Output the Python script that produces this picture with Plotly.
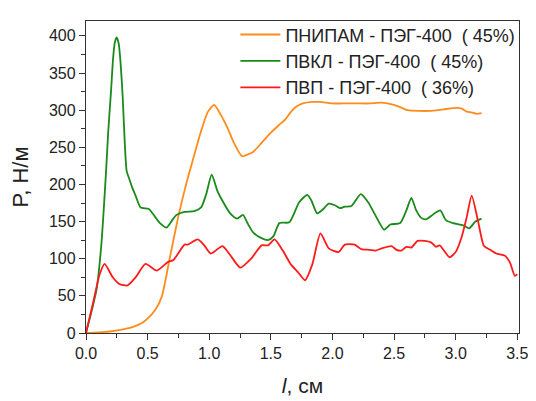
import plotly.graph_objects as go

# ПНИПАМ - ПЭГ-400 (45%)
pnipam_x = [0, 0.1, 0.19, 0.3, 0.377, 0.45, 0.51, 0.565, 0.615, 0.68, 0.748, 0.80, 0.854, 0.934,
            0.99, 1.04, 1.093, 1.146, 1.20, 1.266, 1.31, 1.358, 1.42, 1.49, 1.56, 1.62, 1.66, 1.70,
            1.76, 1.836, 1.90, 1.995, 2.08, 2.155, 2.21, 2.30, 2.40, 2.50, 2.55, 2.61, 2.70,
            2.79, 2.90, 3.01, 3.05, 3.09, 3.13, 3.17, 3.21]
pnipam_y = [0, 0.8, 2, 5, 8, 13, 21, 32, 49, 101, 156, 192, 225, 272,
            298, 307, 294, 277, 256, 238, 240, 244, 255, 268, 279, 288, 297, 304,
            309, 311, 311, 309, 309, 309, 309, 309, 310, 307, 304, 300, 299,
            299, 301, 303, 302, 298, 297, 295, 296]

# ПВКЛ - ПЭГ-400 (45%)
pvkl_x = [0, 0.085, 0.124, 0.164, 0.18, 0.204, 0.22, 0.235, 0.249, 0.265, 0.28, 0.297, 0.315,
          0.33, 0.35, 0.377, 0.40, 0.443, 0.51,
          0.562, 0.60, 0.655, 0.70, 0.735, 0.80, 0.88, 0.934, 0.974, 1.02, 1.067, 1.107, 1.17,
          1.226, 1.274, 1.31, 1.358, 1.42, 1.478, 1.52, 1.57, 1.65, 1.73, 1.796, 1.83, 1.876,
          1.92, 1.97, 2.02, 2.06, 2.10, 2.155, 2.23, 2.29, 2.35, 2.42, 2.47, 2.55, 2.60, 2.64,
          2.68, 2.72, 2.76, 2.82, 2.875, 2.92, 2.98, 3.06, 3.11, 3.16, 3.21]
pvkl_y = [0, 58, 118, 221, 270, 328, 370, 392, 398, 390, 365, 320, 255,
          218, 208, 195, 186, 169, 167,
          156, 148, 142, 152, 159, 163, 164, 169, 186, 213, 191, 178, 161,
          154, 159, 148, 135, 128, 125, 130, 148, 149, 176, 186, 178, 161,
          166, 174, 172, 168, 170, 171, 187, 176, 158, 139, 146, 148, 165, 182,
          165, 155, 153, 160, 165, 152, 148, 145, 141, 150, 154]

# ПВП - ПЭГ-400 (36%)
pvp_x = [0, 0.058, 0.111, 0.151, 0.217, 0.27, 0.337, 0.403, 0.483, 0.575, 0.668, 0.708, 0.80,
         0.827, 0.907, 0.96, 1.013, 1.107, 1.17, 1.252, 1.34, 1.425, 1.478, 1.53, 1.597, 1.664,
         1.72, 1.778, 1.836, 1.903, 1.97, 2.05, 2.10, 2.18, 2.234, 2.30, 2.35, 2.40, 2.48, 2.52,
         2.56, 2.60, 2.64, 2.69, 2.75, 2.80, 2.84, 2.87, 2.95, 3.00, 3.05, 3.09, 3.13, 3.18,
         3.23, 3.28, 3.33, 3.40, 3.44, 3.48, 3.50]
pvp_y = [0, 41, 79, 93, 75, 66, 64, 75, 93, 84, 96, 98, 119,
         119, 126, 118, 107, 117, 105, 88, 100, 118, 118, 126, 111, 92,
         82, 71, 92, 134, 114, 109, 119, 119, 113, 112, 111, 114, 117, 112,
         111, 116, 115, 124, 124, 122, 116, 118, 102, 109, 130, 156, 185, 152,
         117, 112, 107, 104, 95, 77, 79]

NB = "\u00a0"
names = ["ПНИПАМ - ПЭГ-400" + NB + " ( 45%)",
         "ПВКЛ - ПЭГ-400" + NB + " ( 45%)",
         "ПВП - ПЭГ-400" + NB + " ( 36%)"]
colors = ["#FF8C1A", "#1A8A1A", "#FF1A1A"]

fig = go.Figure()
for xs, ys, nm, c in zip([pnipam_x, pvkl_x, pvp_x], [pnipam_y, pvkl_y, pvp_y], names, colors):
    fig.add_trace(go.Scatter(x=xs, y=ys, mode="lines", name=nm,
                             line=dict(color=c, width=1.8, shape="spline", smoothing=0.6)))

font_family = "Liberation Sans, Arial, sans-serif"
axis_common = dict(showline=True, linecolor="#333333", linewidth=1.3, mirror=True,
                   ticks="outside", ticklen=6, tickwidth=1.2, tickcolor="#333333",
                   showgrid=False, zeroline=False,
                   tickfont=dict(family=font_family, size=16, color="#222222"))

fig.update_layout(
    width=528, height=393,
    margin=dict(l=75, r=12, t=8, b=59),
    paper_bgcolor="white", plot_bgcolor="white",
    font=dict(family=font_family, color="#222222"),
    showlegend=True,
    legend=dict(x=0.345, y=1.015, xanchor="left", yanchor="top", itemwidth=40,
                bgcolor="rgba(255,255,255,0)", font=dict(family=font_family, size=18, color="#222222"),
                tracegroupgap=0),
    xaxis=dict(range=[0, 3.514], dtick=0.5, tick0=0, tickformat=".1f",
               minor=dict(ticks="outside", ticklen=4, dtick=0.25, tickcolor="#333333"),
               title=dict(text="<i>l</i>, см" + NB * 4,
                          font=dict(family=font_family, size=21, color="#222222"),
                          standoff=16),
               **axis_common),
    yaxis=dict(range=[0, 420], dtick=50, tick0=0,
               minor=dict(ticks="outside", ticklen=4, dtick=25, tickcolor="#333333"),
               title=dict(text="P, Н/м", font=dict(family=font_family, size=22, color="#222222"),
                          standoff=18),
               **axis_common),
)

fig.write_html("out.html")
